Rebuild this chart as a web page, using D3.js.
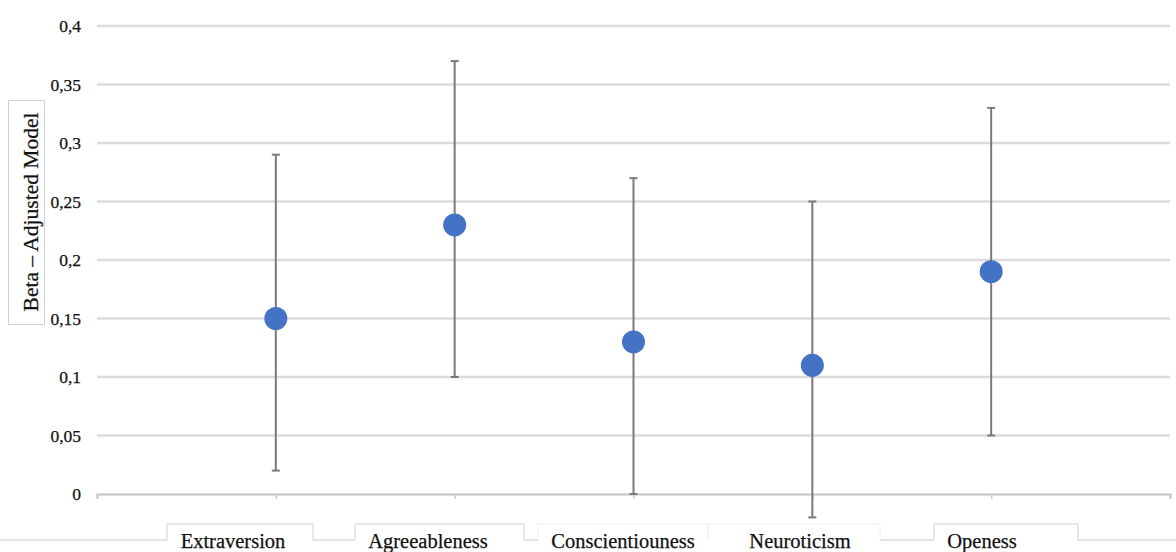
<!DOCTYPE html>
<html>
<head>
<meta charset="utf-8">
<script src="https://cdn.jsdelivr.net/npm/d3@7/dist/d3.min.js"></script>
<style>
  html, body { margin: 0; padding: 0; background: #fff; }
  svg { display: block; font-family: "Liberation Serif", "Times New Roman", serif; }
</style>
</head>
<body>
<svg id="chart" width="1176" height="552"></svg>
<script>
// Personality traits and their adjusted-model betas with confidence limits
const categories = ["Extraversion", "Agreeableness", "Conscientiouness", "Neuroticism", "Openess"];
const beta  = [0.15, 0.23, 0.13, 0.11, 0.19];
const lower = [0.02, 0.10, 0.00, -0.02, 0.05];
const upper = [0.29, 0.37, 0.27, 0.25, 0.33];
const yTicks = [0, 0.05, 0.1, 0.15, 0.2, 0.25, 0.3, 0.35, 0.4];
const yTitle = "Beta – Adjusted Model";

const svg = d3.select("#chart");
const W = 1176, H = 552;
const plot = { left: 97, right: 1170, top: 26, bottom: 494 };

// Axis slots: an empty slot at each end, categories in between
const slots = ["__start", ...categories, "__end"];
const x = d3.scalePoint().domain(slots).range([plot.left, plot.right]);
const y = d3.scaleLinear().domain([0, 0.4]).range([plot.bottom, plot.top]);

const fmt = v => String(+v.toFixed(2)).replace(".", ",");

// Horizontal gridlines
svg.append("g")
  .selectAll("line")
  .data(yTicks.filter(v => v > 0))
  .join("line")
  .attr("x1", plot.left).attr("x2", plot.right)
  .attr("y1", d => y(d)).attr("y2", d => y(d))
  .attr("stroke", "#dcdcdc").attr("stroke-width", 2.5);

// Y axis tick labels
svg.append("g")
  .selectAll("text")
  .data(yTicks)
  .join("text")
  .attr("x", 81)
  .attr("y", d => y(d))
  .attr("dy", "0.35em")
  .attr("text-anchor", "end")
  .attr("font-size", 17.5)
  .attr("fill", "#111")
  .attr("stroke", "#111").attr("stroke-width", 0.25)
  .text(fmt);

// Category axis along zero with small ticks at every slot
const xAxis = d3.axisBottom(x).tickSize(5).tickFormat("");
const gx = svg.append("g").attr("transform", `translate(0,${y(0)})`).call(xAxis);
gx.select(".domain").attr("stroke", "#c4c4c4").attr("stroke-width", 2);
gx.selectAll(".tick line").attr("stroke", "#c8c8c8").attr("stroke-width", 1.5);

// Error bars
const data = categories.map((c, i) => ({ c, b: beta[i], lo: lower[i], hi: upper[i] }));
const eb = svg.append("g").attr("stroke", "#7a7a7a").attr("stroke-width", 2);
eb.selectAll(".whisker").data(data).join("line")
  .attr("class", "whisker")
  .attr("x1", d => x(d.c)).attr("x2", d => x(d.c))
  .attr("y1", d => y(d.lo)).attr("y2", d => y(d.hi));
eb.selectAll(".capHi").data(data).join("line")
  .attr("class", "capHi")
  .attr("x1", d => x(d.c) - 4).attr("x2", d => x(d.c) + 4)
  .attr("y1", d => y(d.hi)).attr("y2", d => y(d.hi));
eb.selectAll(".capLo").data(data).join("line")
  .attr("class", "capLo")
  .attr("x1", d => x(d.c) - 4).attr("x2", d => x(d.c) + 4)
  .attr("y1", d => y(d.lo)).attr("y2", d => y(d.lo));

// Beta markers
svg.append("g").selectAll("circle").data(data).join("circle")
  .attr("cx", d => x(d.c)).attr("cy", d => y(d.b))
  .attr("r", 11.5)
  .attr("fill", "#4472c4");

// Category label tabs below the axis
const tabTop = 524, tabLine = 540;
const tabs = [
  { x0: 167, x1: 313 },
  { x0: 355, x1: 524 },
  { x0: 538, x1: 708 },
  { x0: 708, x1: 880 },
  { x0: 934, x1: 1078 }
];
const labelX = [233, 428, 623, 800, 982];

// baseline rule interrupted by the tabs
const gaps = [];
let cur = 0;
tabs.forEach(t => { if (t.x0 > cur) gaps.push([cur, t.x0]); cur = Math.max(cur, t.x1); });
gaps.push([cur, W]);
svg.append("g").selectAll("line").data(gaps).join("line")
  .attr("x1", d => d[0]).attr("x2", d => d[1])
  .attr("y1", tabLine).attr("y2", tabLine)
  .attr("stroke", "#c8c8c8").attr("stroke-width", 1);

const tabG = svg.append("g");
tabs.forEach((t, i) => {
  const p = d3.path();
  p.moveTo(t.x0, tabLine);
  p.lineTo(t.x0, tabTop);
  p.lineTo(t.x1, tabTop);
  p.lineTo(t.x1, tabLine);
  const isPair = (i === 2 || i === 3);
  tabG.append("path")
    .attr("d", p.toString())
    .attr("fill", "#fff")
    .attr("stroke", isPair ? "#f0f0f0" : "#d0d0d0")
    .attr("stroke-width", 1);
});
svg.append("g").selectAll("text").data(categories).join("text")
  .attr("x", (d, i) => labelX[i])
  .attr("y", 548)
  .attr("text-anchor", "middle")
  .attr("font-size", 20.5)
  .attr("fill", "#111")
  .attr("stroke", "#111").attr("stroke-width", 0.25)
  .text(d => d);

// Y axis title in a framed box
svg.append("rect")
  .attr("x", 8.5).attr("y", 100.5)
  .attr("width", 36).attr("height", 224)
  .attr("fill", "#fff")
  .attr("stroke", "#d0d0d0").attr("stroke-width", 1);
svg.append("text")
  .attr("transform", "translate(37.5,212) rotate(-90)")
  .attr("text-anchor", "middle")
  .attr("font-size", 21.5)
  .attr("fill", "#111")
  .attr("stroke", "#111").attr("stroke-width", 0.25)
  .text(yTitle);
</script>
</body>
</html>
